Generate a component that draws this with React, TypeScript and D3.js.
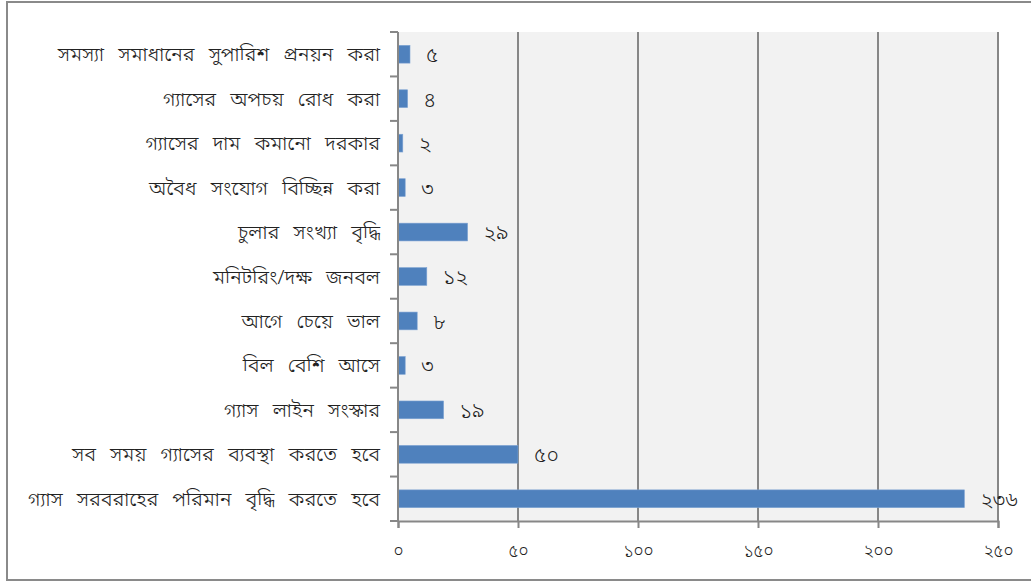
import { useEffect, useRef } from 'react';
import * as d3 from 'd3';

const categories = [
  'গ্যাস সরবরাহের পরিমান বৃদ্ধি করতে হবে',
  'সব সময় গ্যাসের ব্যবস্থা করতে হবে',
  'গ্যাস লাইন সংস্কার',
  'বিল বেশি আসে',
  'আগে চেয়ে ভাল',
  'মনিটরিং/দক্ষ জনবল',
  'চুলার সংখ্যা বৃদ্ধি',
  'অবৈধ সংযোগ বিচ্ছিন্ন করা',
  'গ্যাসের দাম কমানো দরকার',
  'গ্যাসের অপচয় রোধ করা',
  'সমস্যা সমাধানের সুপারিশ প্রনয়ন করা',
];
const values = [236, 50, 19, 3, 8, 12, 29, 3, 2, 4, 5];
const xTicks = [0, 50, 100, 150, 200, 250];

const bnDigits = ['০', '১', '২', '৩', '৪', '৫', '৬', '৭', '৮', '৯'];
const toBn = (n: number) => String(n).replace(/\d/g, d => bnDigits[+d]);

const FONT = '"Noto Sans Bengali", "Vrinda", "Lohit Bengali", "Noto Sans", sans-serif';

export default function App() {
  const svgRef = useRef<SVGSVGElement>(null);

  useEffect(() => {
    if (!svgRef.current) return;
    const svg = d3.select(svgRef.current);
    svg.selectAll('*').remove();

    const width = 1031;
    const plot = { left: 398, top: 32, right: 998, bottom: 521 };

    // outer frame
    svg.append('rect')
      .attr('x', 7).attr('y', 2)
      .attr('width', width + 10).attr('height', 578)
      .attr('fill', 'white')
      .attr('stroke', '#8a8a8a')
      .attr('stroke-width', 2);

    const x = d3.scaleLinear().domain([0, 250]).range([plot.left, plot.right]);
    const y = d3.scaleBand<string>()
      .domain(categories)
      .range([plot.bottom, plot.top])
      .paddingInner(0.6)
      .paddingOuter(0.3);

    // plot background
    svg.append('rect')
      .attr('x', plot.left).attr('y', plot.top)
      .attr('width', plot.right - plot.left)
      .attr('height', plot.bottom - plot.top)
      .attr('fill', '#f2f2f2');

    // gridlines
    svg.append('g')
      .selectAll('line')
      .data(xTicks.slice(1))
      .join('line')
      .attr('x1', d => x(d)).attr('x2', d => x(d))
      .attr('y1', plot.top).attr('y2', plot.bottom)
      .attr('stroke', '#878787')
      .attr('stroke-width', 2);

    // bars
    svg.append('g')
      .selectAll('rect')
      .data(values)
      .join('rect')
      .attr('x', x(0))
      .attr('y', (_, i) => y(categories[i]) || 0)
      .attr('width', d => x(d) - x(0))
      .attr('height', y.bandwidth())
      .attr('fill', '#4f81bd')
      .attr('stroke', '#7ea3d3')
      .attr('stroke-width', 0.6);

    // value labels
    svg.append('g')
      .selectAll('text')
      .data(values)
      .join('text')
      .attr('x', d => x(d) + 16)
      .attr('y', (_, i) => (y(categories[i]) || 0) + y.bandwidth() / 2)
      .attr('dy', '0.38em')
      .attr('font-family', FONT)
      .attr('font-weight', 300)
      .attr('font-size', 21)
      .attr('fill', '#222')
      .text(d => toBn(d));

    // x axis
    const xAxis = svg.append('g')
      .attr('transform', `translate(0,${plot.bottom})`)
      .call(d3.axisBottom(x).tickValues(xTicks).tickSize(7).tickPadding(17).tickFormat(d => toBn(+d)));
    xAxis.select('.domain').attr('stroke', '#878787').attr('stroke-width', 2);
    xAxis.selectAll('.tick line').attr('stroke', '#878787').attr('stroke-width', 2);
    xAxis.selectAll('.tick text')
      .attr('font-family', FONT)
      .attr('font-weight', 300)
      .attr('font-size', 17)
      .attr('fill', '#222');

    // y axis (category)
    const step = (plot.bottom - plot.top) / categories.length;
    const yg = svg.append('g');
    yg.append('line')
      .attr('x1', plot.left).attr('x2', plot.left)
      .attr('y1', plot.top).attr('y2', plot.bottom)
      .attr('stroke', '#878787').attr('stroke-width', 2);
    yg.selectAll('line.tk')
      .data(d3.range(categories.length + 1))
      .join('line')
      .attr('class', 'tk')
      .attr('x1', plot.left - 8).attr('x2', plot.left)
      .attr('y1', i => plot.bottom - i * step)
      .attr('y2', i => plot.bottom - i * step)
      .attr('stroke', '#878787').attr('stroke-width', 2);
    yg.selectAll('text')
      .data(categories)
      .join('text')
      .attr('x', 380)
      .attr('y', d => (y(d) || 0) + y.bandwidth() / 2)
      .attr('dy', '0.35em')
      .attr('text-anchor', 'end')
      .attr('font-family', FONT)
      .attr('font-weight', 300)
      .attr('font-size', 20)
      .attr('word-spacing', 9)
      .attr('fill', '#222')
      .text(d => d);
  }, []);

  return (
    <svg
      ref={svgRef}
      width={1031}
      height={582}
      style={{ position: 'absolute', left: 0, top: 0, display: 'block' }}
    />
  );
}
